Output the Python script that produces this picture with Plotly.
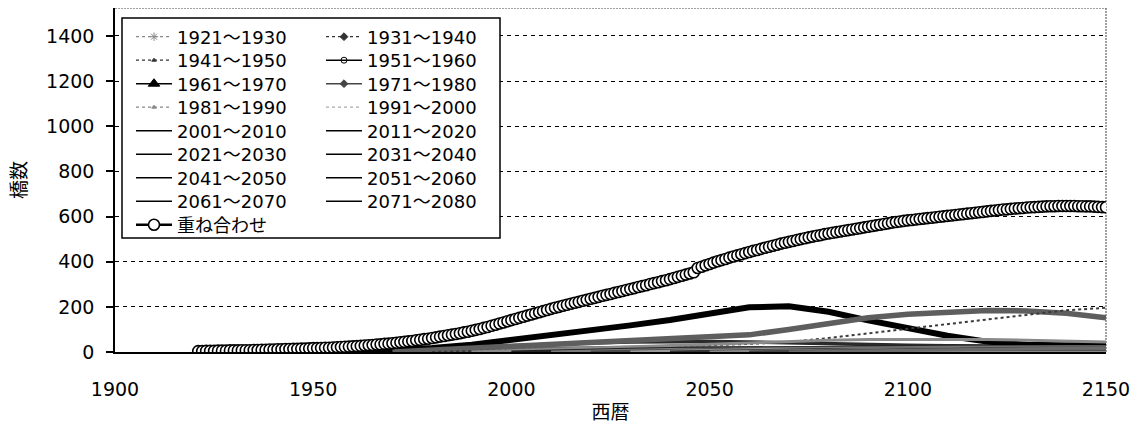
import plotly.graph_objects as go

# ---------------- data ----------------
YEARS_ANNUAL = list(range(1921, 2151))

SUPERPOSITION = [
    4, 4, 5, 5, 5, 6, 6, 6, 7, 7,
    7, 8, 8, 8, 9, 9, 10, 10, 11, 11,
    12, 12, 13, 13, 14, 14, 15, 15, 16, 17,
    17, 18, 19, 19, 20, 21, 22, 23, 24, 25,
    26, 27, 29, 30, 31, 33, 34, 36, 37, 39,
    41, 43, 45, 47, 49, 52, 54, 57, 59, 62,
    65, 68, 71, 74, 77, 80, 83, 87, 90, 94,
    98, 102, 107, 111, 116, 121, 126, 131, 136, 141,
    146, 151, 156, 161, 166, 171, 176, 181, 186, 191,
    196, 200, 205, 209, 214, 218, 222, 227, 231, 236,
    240, 244, 249, 253, 257, 262, 266, 270, 275, 279,
    283, 288, 292, 296, 301, 305, 309, 314, 318, 323,
    328, 333, 338, 343, 348, 353, 372, 378, 384, 390,
    396, 402, 407, 412, 418, 423, 428, 433, 438, 443,
    448, 452, 457, 462, 466, 471, 475, 480, 484, 488,
    492, 496, 500, 504, 508, 511, 515, 518, 522, 525,
    528, 531, 534, 537, 540, 543, 546, 549, 552, 555,
    558, 561, 564, 567, 570, 573, 576, 578, 581, 583,
    585, 587, 589, 591, 593, 595, 597, 599, 601, 603,
    605, 607, 609, 611, 613, 615, 617, 619, 621, 623,
    625, 627, 629, 631, 632, 634, 636, 637, 638, 640,
    641, 642, 643, 644, 645, 646, 646, 647, 647, 647,
    647, 647, 646, 646, 645, 645, 644, 643, 642, 641,
]

YEARS_DEC = [1921, 1930, 1940, 1950, 1960, 1970, 1980, 1990, 2000, 2010, 2020, 2030,
             2040, 2050, 2060, 2070, 2080, 2090, 2100, 2110, 2120, 2130, 2140, 2150]

COHORT_LABELS = ["1921～1930", "1931～1940", "1941～1950", "1951～1960",
                 "1961～1970", "1971～1980", "1981～1990", "1991～2000",
                 "2001～2010", "2011～2020", "2021～2030", "2031～2040",
                 "2041～2050", "2051～2060", "2061～2070", "2071～2080"]

C1921 = [3, 4, 5, 5, 6, 6, 7, 7, 8, 8, 8, 9, 9, 9, 9, 9, 9, 9, 8, 8, 8, 8, 8, 8]
C1931 = [None, 0, 5, 7, 8, 9, 10, 11, 12, 13, 13, 14, 14, 14, 14, 14, 13, 13, 13, 12, 12, 12, 12, 12]
C1941 = [None, None, 0, 5, 8, 10, 12, 14, 16, 18, 19, 20, 20, 20, 20, 19, 18, 18, 17, 17, 16, 16, 16, 15]
C1951 = [None] * 3 + [0, 6, 12, 18, 24, 30, 35, 40, 44, 46, 46, 44, 40, 36, 33, 30, 28, 27, 26, 26, 25]
C1961 = [None] * 4 + [0, 8, 18, 32, 52, 75, 98, 118, 142, 168, 198, 203, 178, 140, 104, 72, 46, 32, 30, 32]
C1971 = [None] * 5 + [0, 8, 16, 24, 32, 40, 48, 56, 64, 76, 100, 128, 152, 167, 178, 184, 182, 172, 152]
C1981 = [None] * 6 + [0, 4, 8, 13, 17, 21, 25, 30, 36, 44, 62, 82, 104, 125, 143, 165, 185, 196]
C1991 = [None] * 7 + [0, 6, 12, 18, 24, 30, 36, 42, 48, 52, 55, 56, 56, 55, 52, 48, 44]
C2001 = [None] * 8 + [0, 5, 9, 12, 15, 17, 19, 20, 21, 22, 22, 23, 23, 24, 24, 24]
C2011 = [None] * 9 + [0, 5, 8, 11, 13, 15, 17, 18, 19, 20, 21, 22, 22, 23, 23]
C2021 = [None] * 10 + [0, 4, 8, 10, 12, 14, 16, 17, 18, 19, 20, 21, 22, 22]
C2031 = [None] * 11 + [0, 4, 7, 10, 12, 14, 15, 17, 18, 19, 20, 21, 21]
C2041 = [None] * 12 + [0, 4, 7, 9, 11, 13, 15, 16, 18, 19, 20, 21]
C2051 = [None] * 13 + [0, 3, 6, 9, 11, 13, 15, 17, 18, 19, 20]
C2061 = [None] * 14 + [0, 3, 6, 8, 11, 13, 15, 17, 18, 19]
C2071 = [None] * 15 + [0, 3, 5, 8, 10, 12, 14, 16, 18]

COHORT_VALUES = [C1921, C1931, C1941, C1951, C1961, C1971, C1981, C1991,
                 C2001, C2011, C2021, C2031, C2041, C2051, C2061, C2071]

Y_TICKS = [0, 200, 400, 600, 800, 1000, 1200, 1400]
X_TICKS = [1900, 1950, 2000, 2050, 2100, 2150]

# ---------------- styles ----------------
# (color, width, dash) for the curves in the plot
PLOT_STYLES = [
    ("#8a8a8a", 3.5, "solid"), ("#4a4a4a", 3.5, "solid"), ("#6a6a6a", 3.5, "solid"), ("#2a2a2a", 3.5, "solid"),
    ("#000000", 6, "solid"), ("#5e5e5e", 5.5, "solid"), ("#3a3a3a", 2, "dot"), ("#8a8a8a", 3, "solid"),
    ("#222222", 3, "solid"), ("#7a7a7a", 3, "solid"), ("#4a4a4a", 3, "solid"), ("#9a9a9a", 3, "solid"),
    ("#333333", 3, "solid"), ("#888888", 3, "solid"), ("#444444", 3, "solid"), ("#6a6a6a", 3, "solid"),
]
# (line color, width, dash, marker symbol, marker size) for the legend samples
LEGEND_STYLES = [
    ("#888888", 1.2, "dot", "asterisk-open", 7), ("#333333", 1.2, "dot", "diamond", 6),
    ("#333333", 1.2, "dot", "triangle-up", 4), ("#000000", 1.5, "solid", "circle-open", 6),
    ("#000000", 1.5, "solid", "triangle-up", 10), ("#444444", 1.5, "solid", "diamond", 6),
    ("#888888", 1.2, "dot", "triangle-up", 4), ("#aaaaaa", 1.2, "dot", None, 0),
    ("#000000", 1.5, "solid", None, 0), ("#000000", 1.5, "solid", None, 0),
    ("#000000", 1.5, "solid", None, 0), ("#000000", 1.5, "solid", None, 0),
    ("#000000", 1.5, "solid", None, 0), ("#000000", 1.5, "solid", None, 0),
    ("#000000", 1.5, "solid", None, 0), ("#000000", 1.5, "solid", None, 0),
]

FONT = "DejaVu Sans, Noto Sans CJK JP, sans-serif"

# legend grid (screen pixels): page body adds an 8px offset; plot area x 115..1106, y 8..352
PLOT_L, PLOT_W, PLOT_T, PLOT_H = 115, 991, 8, 344
ROW0, ROW_STEP = 37, 23.5
COL_X = [131, 321]


def px_to_paper_x(px):
    return (px - PLOT_L) / PLOT_W


def px_to_paper_y(py):
    return 1 - (py - PLOT_T) / PLOT_H


fig = go.Figure()

# curves
for vals, (c, w, d) in zip(COHORT_VALUES, PLOT_STYLES):
    fig.add_trace(go.Scatter(x=YEARS_DEC, y=vals, mode="lines",
                             line=dict(color=c, width=w, dash=d),
                             showlegend=False, hoverinfo="skip"))

legend_layouts = {}
legend_common = dict(font=dict(family=FONT, size=18, color="black"),
                     bgcolor="rgba(0,0,0,0)", borderwidth=0, itemwidth=36,
                     yanchor="middle", xanchor="left",
                     itemclick=False, itemdoubleclick=False)


def legend_slot(k, col, row):
    key = "legend" if k == 1 else f"legend{k}"
    legend_layouts[key] = dict(x=px_to_paper_x(COL_X[col]),
                               y=px_to_paper_y(ROW0 + ROW_STEP * row), **legend_common)
    return key


# legend samples (two columns, one legend box per entry)
for i, (label, (c, w, d, sym, sz)) in enumerate(zip(COHORT_LABELS, LEGEND_STYLES)):
    mode = "lines+markers" if sym else "lines"
    kw = dict(marker=dict(symbol=sym, size=sz, color=c, line=dict(color=c, width=1))) if sym else {}
    key = legend_slot(i + 1, i % 2, i // 2)
    fig.add_trace(go.Scatter(x=[None], y=[None], mode=mode, name=label,
                             line=dict(color=c, width=w, dash=d), legend=key, **kw))

# superposition
key = legend_slot(len(COHORT_LABELS) + 1, 0, len(COHORT_LABELS) // 2)
fig.add_trace(go.Scatter(x=YEARS_ANNUAL, y=SUPERPOSITION, mode="lines+markers",
                         name="重ね合わせ", legend=key,
                         line=dict(color="black", width=2.5),
                         marker=dict(symbol="circle", size=11, color="white",
                                     line=dict(color="black", width=1.6))))

fig.update_layout(
    width=1136, height=427,
    margin=dict(l=107, r=38, t=0, b=83, autoexpand=False),
    paper_bgcolor="white", plot_bgcolor="white",
    font=dict(family=FONT, size=18, color="black"),
    xaxis=dict(range=[1900, 2150], tickvals=X_TICKS, showgrid=False,
               showline=True, linecolor="black", linewidth=1.5, ticks="",
               zeroline=False, ticklabelstandoff=19, automargin=False,
               tickfont=dict(size=19),
               title=dict(text="西暦", font=dict(size=19), standoff=7)),
    yaxis=dict(range=[0, 1524], tickvals=Y_TICKS, showgrid=True,
               gridcolor="black", gridwidth=1, griddash="4px,4px",
               showline=True, linecolor="black", linewidth=1.5,
               ticks="outside", ticklen=7, tickcolor="black", tickwidth=1.5,
               zeroline=False, ticklabelstandoff=8, automargin=False,
               tickfont=dict(size=19),
               title=dict(text="橋数", font=dict(size=19), standoff=14)),
    shapes=[
        dict(type="line", xref="paper", yref="paper", x0=0, x1=1, y0=1, y1=1,
             line=dict(color="#444", width=1, dash="2px,1px"), layer="below"),
        dict(type="line", xref="paper", yref="paper", x0=1, x1=1, y0=0, y1=1,
             line=dict(color="#444", width=1, dash="2px,1px"), layer="below"),
        dict(type="rect", xref="paper", yref="paper",
             x0=px_to_paper_x(122), x1=px_to_paper_x(500),
             y0=px_to_paper_y(238), y1=px_to_paper_y(18),
             fillcolor="white", line=dict(color="black", width=1.5), layer="above"),
    ],
    **legend_layouts,
)

fig.write_html("out.html")
